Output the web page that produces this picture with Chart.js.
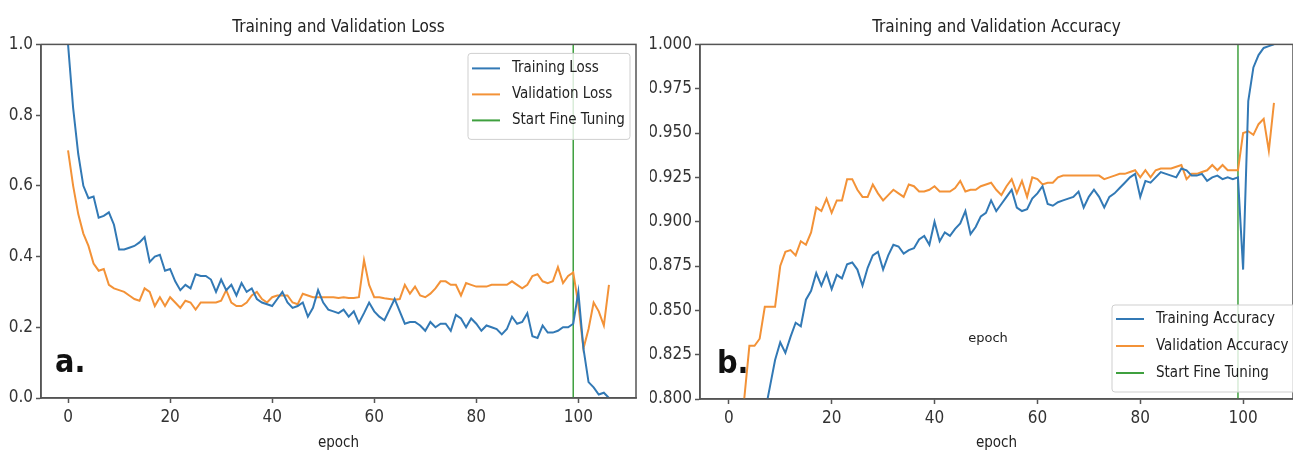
<!DOCTYPE html>
<html>
<head>
<meta charset="utf-8">
<script src="https://cdn.jsdelivr.net/npm/chart.js@4.4.1/dist/chart.umd.min.js"></script>
<style>
  html, body { margin: 0; padding: 0; background: #fff; }
  #wrap { position: relative; width: 1293px; height: 455px; overflow: hidden; }
  canvas { position: absolute; top: 0; }
</style>
</head>
<body>
<div id="wrap">
  <canvas id="lossChart" width="650" height="455" style="left:0"></canvas>
  <canvas id="accChart" width="643" height="455" style="left:650px"></canvas>
</div>
<script>
// values, epoch 0..106
const trainLoss = [1.0, 0.82, 0.69, 0.60, 0.565, 0.57, 0.51, 0.515, 0.525, 0.49,
  0.42, 0.42, 0.425, 0.43, 0.44, 0.455, 0.385, 0.40, 0.405, 0.36,
  0.365, 0.33, 0.305, 0.32, 0.31, 0.35, 0.345, 0.345, 0.335, 0.30,
  0.335, 0.305, 0.32, 0.29, 0.325, 0.30, 0.31, 0.28, 0.27, 0.265,
  0.26, 0.28, 0.30, 0.27, 0.255, 0.26, 0.27, 0.23, 0.255, 0.305,
  0.27, 0.25, 0.245, 0.24, 0.25, 0.23, 0.245, 0.212, 0.24, 0.27,
  0.245, 0.23, 0.22, 0.25, 0.28, 0.245, 0.21, 0.215, 0.215, 0.205,
  0.19, 0.215, 0.20, 0.21, 0.21, 0.19, 0.235, 0.225, 0.20, 0.225,
  0.21, 0.19, 0.205, 0.20, 0.195, 0.18, 0.195, 0.23, 0.21, 0.215,
  0.24, 0.175, 0.17, 0.205, 0.185, 0.185, 0.19, 0.20, 0.20, 0.21,
  0.30, 0.14, 0.045, 0.03, 0.01, 0.015, 0.0];

const valLoss = [0.70, 0.60, 0.52, 0.465, 0.43, 0.38, 0.36, 0.365, 0.32, 0.31,
  0.305, 0.30, 0.29, 0.28, 0.275, 0.31, 0.30, 0.26, 0.285, 0.26,
  0.285, 0.27, 0.255, 0.275, 0.27, 0.25, 0.27, 0.27, 0.27, 0.27,
  0.275, 0.305, 0.27, 0.26, 0.26, 0.27, 0.29, 0.30, 0.28, 0.27,
  0.285, 0.29, 0.29, 0.29, 0.27, 0.265, 0.295, 0.29, 0.285, 0.285,
  0.285, 0.285, 0.285, 0.283, 0.285, 0.283, 0.283, 0.285, 0.39, 0.32,
  0.285, 0.285, 0.282, 0.28, 0.278, 0.28, 0.32, 0.295, 0.315, 0.29,
  0.285, 0.295, 0.31, 0.33, 0.33, 0.32, 0.32, 0.29, 0.325, 0.32,
  0.315, 0.315, 0.315, 0.32, 0.32, 0.32, 0.32, 0.33, 0.32, 0.31,
  0.32, 0.345, 0.35, 0.33, 0.325, 0.33, 0.37, 0.325, 0.345, 0.355,
  0.265, 0.14, 0.195, 0.27, 0.245, 0.205, 0.32];

const trainAcc = [0.55, 0.65, 0.70, 0.73, 0.75, 0.765, 0.78, 0.792, 0.807, 0.822,
  0.832, 0.826, 0.835, 0.843, 0.841, 0.856, 0.861, 0.871, 0.864, 0.871,
  0.862, 0.870, 0.868, 0.876, 0.877, 0.873, 0.864, 0.874, 0.881, 0.883,
  0.873, 0.881, 0.887, 0.886, 0.882, 0.884, 0.885, 0.890, 0.892, 0.887,
  0.900, 0.889, 0.894, 0.892, 0.896, 0.899, 0.906, 0.893, 0.897, 0.903,
  0.905, 0.912, 0.906, 0.910, 0.914, 0.918, 0.908, 0.906, 0.907, 0.913,
  0.916, 0.920, 0.910, 0.909, 0.911, 0.912, 0.913, 0.914, 0.917, 0.908,
  0.914, 0.918, 0.914, 0.908, 0.914, 0.916, 0.919, 0.922, 0.925, 0.927,
  0.914, 0.923, 0.922, 0.925, 0.928, 0.927, 0.926, 0.925, 0.930, 0.929,
  0.926, 0.926, 0.927, 0.923, 0.925, 0.926, 0.924, 0.925, 0.924, 0.925,
  0.873, 0.968, 0.987, 0.994, 0.998, 0.999, 1.0];

const valAcc = [0.70, 0.74, 0.77, 0.80, 0.830, 0.830, 0.834, 0.852, 0.852, 0.852,
  0.875, 0.883, 0.884, 0.881, 0.889, 0.887, 0.894, 0.908, 0.906, 0.913,
  0.905, 0.912, 0.912, 0.924, 0.924, 0.918, 0.914, 0.914, 0.921, 0.916,
  0.912, 0.915, 0.918, 0.916, 0.914, 0.921, 0.920, 0.917, 0.917, 0.918,
  0.920, 0.917, 0.917, 0.917, 0.919, 0.923, 0.917, 0.918, 0.918, 0.920,
  0.921, 0.922, 0.918, 0.915, 0.920, 0.924, 0.916, 0.923, 0.914, 0.925,
  0.924, 0.921, 0.922, 0.922, 0.925, 0.926, 0.926, 0.926, 0.926, 0.926,
  0.926, 0.926, 0.926, 0.924, 0.925, 0.926, 0.927, 0.927, 0.928, 0.929,
  0.925, 0.929, 0.925, 0.929, 0.930, 0.930, 0.930, 0.931, 0.932, 0.924,
  0.927, 0.927, 0.928, 0.929, 0.932, 0.929, 0.932, 0.929, 0.929, 0.929,
  0.950, 0.951, 0.949, 0.955, 0.958, 0.940, 0.967];

const fineTuneEpoch = 99;
const epochTicks = [0, 20, 40, 60, 80, 100];
const lossTicks = [0.0, 0.2, 0.4, 0.6, 0.8, 1.0];
const accTicks = [0.800, 0.825, 0.850, 0.875, 0.900, 0.925, 0.950, 0.975, 1.000];

const BLUE = '#3279b5';
const ORANGE = '#f39237';
const GREEN = '#3fa03f';
const SPINE = '#555';
const FONT = '"DejaVu Sans Condensed", "Liberation Sans Narrow", "DejaVu Sans", sans-serif';

Chart.defaults.font.family = FONT;
Chart.defaults.color = '#333';

const pts = arr => arr.map((v, i) => ({ x: i, y: v }));

// spines, legend box inside the plot, panel letter
const framePlugin = {
  id: 'frame',
  afterDraw(chart, args, o) {
    const { ctx, chartArea: a } = chart;
    ctx.save();
    ctx.strokeStyle = SPINE;
    ctx.lineWidth = 1.5;
    ctx.strokeRect(a.left, a.top, a.right - a.left, a.bottom - a.top);

    // legend
    const L = o.legend;
    const bx = L.fromRight ? a.right - L.dx : a.left + L.dx;
    const by = L.fromBottom ? a.bottom - L.dy : a.top + L.dy;
    ctx.fillStyle = 'rgba(255,255,255,0.8)';
    ctx.strokeStyle = '#cfcfcf';
    ctx.lineWidth = 1;
    ctx.beginPath();
    ctx.roundRect(bx, by, L.w, L.h, 3);
    ctx.fill();
    ctx.stroke();
    ctx.font = '15px ' + FONT;
    ctx.textBaseline = 'middle';
    chart.data.datasets.forEach((ds, i) => {
      const y = by + L.first + i * L.step;
      ctx.strokeStyle = ds.borderColor;
      ctx.lineWidth = 2;
      ctx.beginPath();
      ctx.moveTo(bx + 4, y);
      ctx.lineTo(bx + 32, y);
      ctx.stroke();
      ctx.fillStyle = '#222';
      ctx.fillText(ds.label, bx + 44, y);
    });

    // panel letter
    ctx.fillStyle = '#111';
    ctx.font = 'bold 32px ' + FONT;
    ctx.textBaseline = 'alphabetic';
    ctx.fillText(o.letter, a.left + o.letterDx, a.bottom - 26);

    if (o.note) {
      ctx.font = '13px "DejaVu Sans", sans-serif';
      ctx.fillStyle = '#222';
      ctx.textAlign = 'center';
      ctx.textBaseline = 'middle';
      ctx.fillText(o.note.text, a.left + o.note.dx, a.top + o.note.dy);
    }
    ctx.restore();
  }
};

function makeChart(id, cfg) {
  return new Chart(document.getElementById(id), {
    type: 'line',
    data: {
      datasets: [
        { label: cfg.labels[0], data: pts(cfg.train), borderColor: BLUE },
        { label: cfg.labels[1], data: pts(cfg.val), borderColor: ORANGE },
        { label: 'Start Fine Tuning', borderColor: GREEN, borderWidth: 1.5,
          data: [{ x: fineTuneEpoch, y: cfg.yTicks[0] }, { x: fineTuneEpoch, y: cfg.yTicks[cfg.yTicks.length - 1] }] }
      ]
    },
    options: {
      responsive: false,
      animation: false,
      layout: { padding: { left: 0, right: cfg.padRight, top: 0, bottom: 0 } },
      elements: {
        line: { borderWidth: 2, tension: 0, fill: false },
        point: { radius: 0 }
      },
      scales: {
        x: {
          type: 'linear',
          min: cfg.xMin,
          max: cfg.xMax,
          afterBuildTicks: s => { s.ticks = epochTicks.map(v => ({ value: v })); },
          afterFit: s => { s.height = cfg.xHeight; },
          grid: { drawOnChartArea: false, tickLength: 5, tickColor: SPINE, tickWidth: 1.5 },
          border: { color: SPINE, width: 1.5 },
          ticks: { font: { size: 17 }, color: '#333', padding: 4, autoSkip: false, maxRotation: 0 },
          title: { display: true, text: 'epoch', font: { size: 15 }, color: '#222', padding: { top: 2, bottom: 3 } }
        },
        y: {
          min: cfg.yTicks[0],
          max: cfg.yTicks[cfg.yTicks.length - 1],
          afterBuildTicks: s => { s.ticks = cfg.yTicks.map(v => ({ value: v })); },
          afterFit: s => { s.width = cfg.yWidth; },
          grid: { drawOnChartArea: false, tickLength: 5, tickColor: SPINE, tickWidth: 1.5 },
          border: { color: SPINE, width: 1.5 },
          ticks: { font: { size: 17 }, color: '#333', padding: 3, autoSkip: false,
                   callback: v => v.toFixed(cfg.decimals) }
        }
      },
      plugins: {
        legend: { display: false },
        tooltip: { enabled: false },
        title: {
          display: true, text: cfg.title, fullSize: false,
          font: { size: 17, weight: 'normal' }, color: '#222',
          padding: { top: 17, bottom: 7 }
        },
        frame: cfg.frame
      }
    },
    plugins: [framePlugin]
  });
}

makeChart('lossChart', {
  title: 'Training and Validation Loss',
  labels: ['Training Loss', 'Validation Loss'],
  train: trainLoss, val: valLoss,
  yTicks: lossTicks, decimals: 1,
  xMin: -5.3, xMax: 111.3,
  yWidth: 41, xHeight: 57, padRight: 14,
  frame: {
    letter: 'a.', letterDx: 14,
    legend: { fromRight: true, dx: 168, dy: 9, w: 162, h: 86, first: 15, step: 26 }
  }
});

makeChart('accChart', {
  title: 'Training and Validation Accuracy',
  labels: ['Training Accuracy', 'Validation Accuracy'],
  train: trainAcc, val: valAcc,
  yTicks: accTicks, decimals: 3,
  xMin: -5.6, xMax: 109.7,
  yWidth: 50, xHeight: 56, padRight: 0,
  frame: {
    letter: 'b.', letterDx: 17,
    legend: { fromRight: true, fromBottom: true, dx: 181, dy: 94, w: 195, h: 87, first: 14, step: 27 },
    note: { text: 'epoch', dx: 288, dy: 294 }
  }
});
</script>
</body>
</html>
